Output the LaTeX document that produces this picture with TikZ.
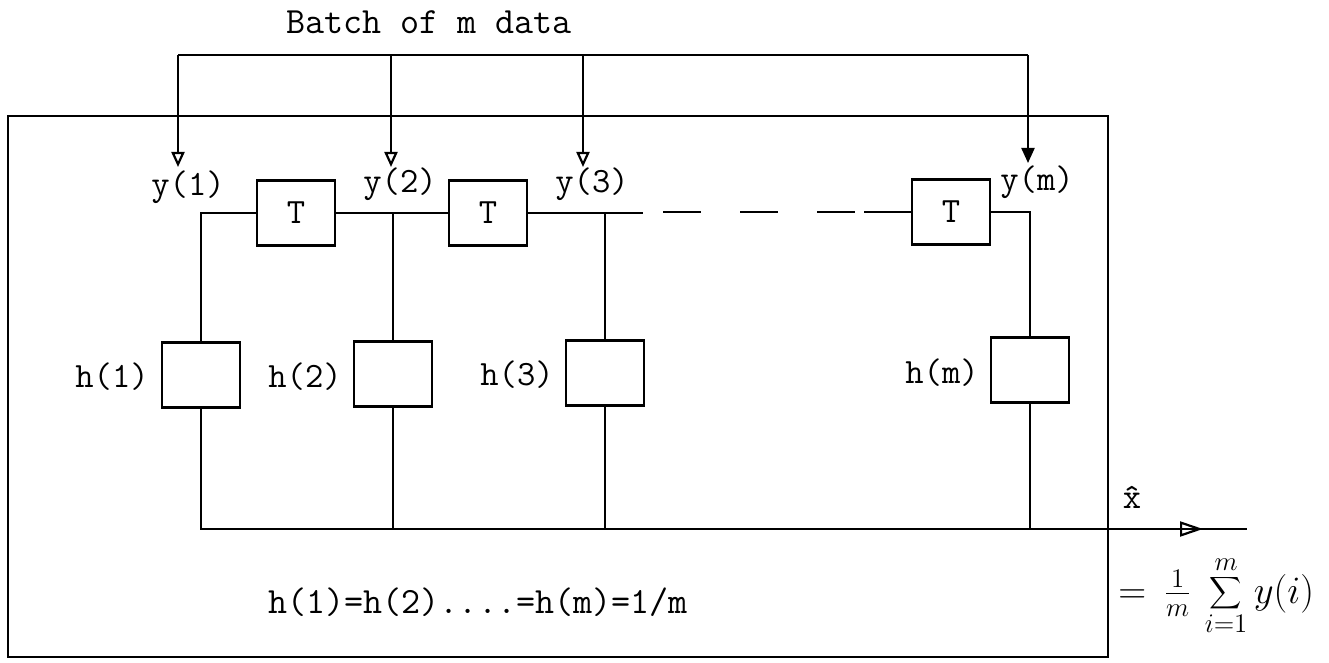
\documentclass[tikz,border=0pt]{standalone}
\usepackage{fontspec}
\usetikzlibrary{arrows.meta,calc}
\begin{document}
\begin{tikzpicture}[x=0.5pt,y=-0.5pt,
  lbl/.style={font=\ttfamily\fontsize{17.8}{20}\selectfont, inner sep=1pt},
  box/.style={draw, line width=1.1pt, minimum width=39pt, minimum height=32.5pt, inner sep=0pt, font=\ttfamily\fontsize{17.8}{20}\selectfont},
  wire/.style={line width=1.1pt},
  tipo/.style={wire, -{Triangle[open, length=7.5pt, width=6.5pt, line width=1.1pt]}},
  tipf/.style={wire, -{Triangle[length=7.5pt, width=6.5pt]}},
  otip/.style={wire, -{Triangle[open, length=11.5pt, width=7.5pt, line width=1.1pt]}}]
\useasboundingbox (0,0) rectangle (1329,663);
% outer box
\draw[wire] (8,116) rectangle (1108,657);
% title
\node[lbl, font=\ttfamily\fontsize{18.5}{20}\selectfont] (title) at (429,22) {Batch of m data};
% bus
\coordinate (b1) at (178,55);
\coordinate (b2) at (391,55);
\coordinate (b3) at (583,55);
\coordinate (bm) at (1028,55);
\coordinate (a1) at (178,167);
\coordinate (a2) at (391,167);
\coordinate (a3) at (583,167);
\coordinate (am) at (1028,163);
\draw[wire] (b1) -- (bm);
\draw[tipo] (b1) -- (a1);
\draw[tipo] (b2) -- (a2);
\draw[tipo] (b3) -- (a3);
\draw[tipf] (bm) -- (am);
% y labels
\node[lbl] (y1) at (188,187) {y(1)};
\node[lbl] (y2) at (400,184) {y(2)};
\node[lbl] (y3) at (592,184) {y(3)};
\node[lbl] (ym) at (1037,182) {y(m)};
% T boxes
\node[box] (T1) at (296,213) {T};
\node[box] (T2) at (488,213) {T};
\node[box] (T3) at (951,212) {T};
% h boxes
\node[box] (h1) at (201,375) {};
\node[box] (h2) at (393,374) {};
\node[box] (h3) at (605,373) {};
\node[box] (hm) at (1030,370) {};
\node[lbl] (lh1) at (112,377) {h(1)};
\node[lbl] (lh2) at (305,377) {h(2)};
\node[lbl] (lh3) at (517,375) {h(3)};
\node[lbl] (lhm) at (942,373) {h(m)};
% delay line
\coordinate (s1) at (643,213);
\coordinate (d1) at (663,212);
\coordinate (d2) at (864,212);
\draw[wire] (h1.north) |- (T1.west);
\draw[wire] (T1.east) -- (T2.west);
\draw[wire] (h2.north) -- (h2.north |- T1.east);
\draw[wire] (T2.east) -- (s1);
\draw[wire] (h3.north) -- (h3.north |- T2.east);
\draw[wire, dash pattern=on 19pt off 19.5pt] (d1) -- (d2);
\draw[wire] (d2) -- (T3.west);
\draw[wire] (T3.east) -| (hm.north);
% output
\coordinate (oe) at (1247,529);
\coordinate (ot) at (1203,529);
\coordinate (os) at (1170,529);
\draw[wire] (h1.south) |- (oe);
\foreach \n in {h2,h3,hm} \draw[wire] (\n.south) -- (\n.south |- oe);
\draw[otip] (os) -- (ot);
\node[lbl] (xh) at (1132,497) {\^{x}};
\node[anchor=west, inner sep=0pt, font=\fontsize{17.28}{20}\selectfont] (sum) at (1118,596) {\scalebox{1.12}{$=\,\frac{1}{m}\,\displaystyle\sum_{i=1}^{m} y(i)$}};
% condition
\node[lbl, anchor=west, font=\ttfamily\fontsize{18.5}{20}\selectfont] (cond) at (266,602) {h(1)=h(2)....=h(m)=1/m};
\end{tikzpicture}
\end{document}
